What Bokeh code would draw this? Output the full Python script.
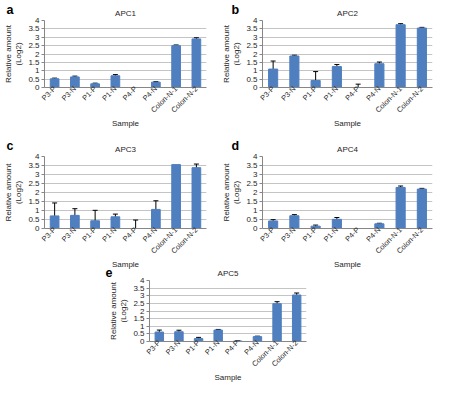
import math
from bokeh.plotting import figure
from bokeh.models import (ColumnDataSource, Range1d, FixedTicker, NumeralTickFormatter,
                          Whisker, Spacer, TeeHead, Title)
from bokeh.layouts import column, row
from bokeh.embed import file_html
from bokeh.resources import INLINE

samples = ["P3-P", "P3-N", "P1-P", "P1-N", "P4-P", "P4-N", "Colon-N-1", "Colon-N-2"]

apc1 = [0.52, 0.63, 0.22, 0.70, 0.0, 0.32, 2.50, 2.90]
apc1_err = [0.04, 0.05, 0.04, 0.07, 0.0, 0.03, 0.04, 0.07]

apc2 = [1.10, 1.88, 0.42, 1.25, 0.0, 1.42, 3.75, 3.55]
apc2_err = [0.48, 0.05, 0.53, 0.12, 0.20, 0.10, 0.06, 0.04]

apc3 = [0.70, 0.73, 0.43, 0.65, 0.0, 1.06, 3.55, 3.38]
apc3_err = [0.72, 0.37, 0.58, 0.15, 0.47, 0.48, 0.0, 0.20]

apc4 = [0.42, 0.71, 0.13, 0.51, 0.0, 0.26, 2.28, 2.19]
apc4_err = [0.07, 0.06, 0.06, 0.10, 0.0, 0.03, 0.08, 0.04]

apc5 = [0.62, 0.64, 0.19, 0.75, 0.03, 0.32, 2.48, 3.05]
apc5_err = [0.13, 0.10, 0.08, 0.04, 0.02, 0.03, 0.13, 0.13]

y_ticks = [0, 0.5, 1, 1.5, 2, 2.5, 3, 3.5, 4]

FONT = "Liberation Sans"
TXT = "#262626"
BAR = "#4f7fbf"


def panel(letter, title, vals, errs, width, height, right, top, letter_dx,
          xlabel_standoff, overlap):
    p = figure(x_range=samples, y_range=Range1d(0, 4), width=width, height=height,
               output_backend="svg", toolbar_location=None,
               min_border_left=30, min_border_right=right,
               min_border_top=top, min_border_bottom=0,
               margin=(0, 0, -overlap, 0))
    p.border_fill_color = None
    p.background_fill_color = "white"
    # panel letter: outermost title pulled down beside the chart title
    p.title = Title(text=letter, align="left", offset=letter_dx, standoff=-27,
                    vertical_align="bottom", text_font=FONT, text_font_size="12.5px",
                    text_font_style="bold", text_color="black")
    p.add_layout(Title(text=title, align="center", standoff=6, text_font=FONT,
                       text_font_size="8px", text_font_style="normal",
                       text_color=TXT), "above")
    p.outline_line_color = None

    src = ColumnDataSource(dict(sample=samples, value=vals))
    p.vbar(x="sample", top="value", width=0.43, source=src,
           fill_color=BAR, line_color=BAR)

    es = [s for s, e in zip(samples, errs) if e > 0]
    lo = [max(0.0, v - e) for v, e in zip(vals, errs) if e > 0]
    hi = [v + e for v, e in zip(vals, errs) if e > 0]
    esrc = ColumnDataSource(dict(sample=es, lower=lo, upper=hi))
    w = Whisker(base="sample", lower="lower", upper="upper", source=esrc,
                line_color="black", line_width=1,
                upper_head=TeeHead(size=5, line_color="black", line_width=1),
                lower_head=TeeHead(size=5, line_color="black", line_width=1))
    p.add_layout(w)

    p.xgrid.grid_line_color = None
    p.ygrid.grid_line_color = "#c4c4c4"
    p.ygrid.ticker = FixedTicker(ticks=y_ticks)

    ya = p.yaxis[0]
    ya.ticker = FixedTicker(ticks=y_ticks)
    ya.formatter = NumeralTickFormatter(format="0.[0]")
    ya.axis_label = "Relative amount\n(Log2)"
    ya.axis_label_text_font = FONT
    ya.axis_label_text_font_size = "8px"
    ya.axis_label_text_font_style = "normal"
    ya.axis_label_text_color = TXT
    ya.axis_label_standoff = 2
    ya.major_label_text_font = FONT
    ya.major_label_text_font_size = "8px"
    ya.major_label_text_color = TXT
    ya.major_label_standoff = 2
    ya.major_tick_in = 0
    ya.major_tick_out = 3
    ya.minor_tick_line_color = None
    ya.axis_line_color = "#868686"
    ya.major_tick_line_color = "#868686"

    xa = p.xaxis[0]
    xa.major_label_orientation = math.pi / 4
    xa.major_label_text_font = FONT
    xa.major_label_text_font_size = "7.4px"
    xa.major_label_text_color = TXT
    xa.major_label_standoff = 0
    xa.major_tick_line_color = None
    xa.major_tick_in = 0
    xa.major_tick_out = 0
    xa.axis_line_color = "#868686"
    xa.axis_label = "Sample"
    xa.axis_label_text_font = FONT
    xa.axis_label_text_font_size = "8px"
    xa.axis_label_text_font_style = "normal"
    xa.axis_label_text_color = TXT
    xa.axis_label_standoff = xlabel_standoff
    return p


pa = panel("a", "APC1", apc1, apc1_err, 218, 130, 12, 20, -38, -2, 4)
pb = panel("b", "APC2", apc2, apc2_err, 216, 130, 2, 20, -31, -2, 4)
pc = panel("c", "APC3", apc3, apc3_err, 218, 145, 12, 30, -38, -2, 17)
pd = panel("d", "APC4", apc4, apc4_err, 216, 145, 2, 30, -31, -2, 17)
pe = panel("e", "APC5", apc5, apc5_err, 211, 130, 10, 26, -44, -2, 0)

layout = column(row(pa, pb), row(pc, pd), row(Spacer(width=105, height=130), pe))

open("out.html", "w").write(file_html(layout, INLINE))
